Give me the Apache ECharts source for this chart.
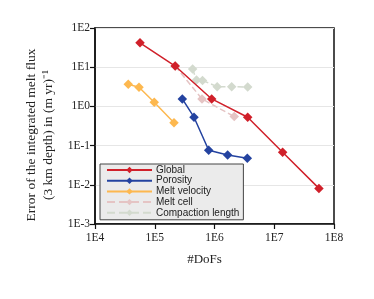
<!DOCTYPE html>
<html><head><meta charset="utf-8">
<script src="https://cdn.jsdelivr.net/npm/echarts@6/dist/echarts.min.js"></script>
<style>html,body{margin:0;padding:0;background:#fff}#c{width:374px;height:299px}</style>
</head><body><div id="c"></div>
<script>
const seriesNames = ['Global','Porosity','Melt velocity','Melt cell','Compaction length'];
const globalDofs = [5.66e4, 2.2e5, 8.97e5, 3.59e6, 1.38e7, 5.6e7];
const globalErr  = [42, 10.7, 1.55, 0.53, 0.0675, 0.0081];
const porosityDofs = [2.89e5, 4.54e5, 8.0e5, 1.66e6, 3.54e6];
const porosityErr  = [1.55, 0.53, 0.076, 0.0575, 0.0474];
const meltVelDofs = [3.6e4, 5.45e4, 9.8e4, 2.1e5];
const meltVelErr  = [3.66, 3.07, 1.27, 0.385];
const meltCellDofs = [2.2e5, 6.18e5, 2.14e6];
const meltCellErr  = [10.7, 1.55, 0.55];
const compDofs = [4.3e5, 5.0e5, 6.3e5, 1.11e6, 1.94e6, 3.59e6];
const compErr  = [9.0, 4.7, 4.6, 3.18, 3.18, 3.13];
const xTicks = ['1E4','1E5','1E6','1E7','1E8'];
const yTicks = ['1E-3','1E-2','1E-1','1E0','1E1','1E2'];

const zip = (a,b) => a.map((v,i)=>[v,b[i]]);
const serif = 'Liberation Serif';
function mk(name, xs, ys, color, type, z) {
  return {
    name, type:'line', data: zip(xs,ys), symbol:'diamond', symbolSize:9.5, z,
    lineStyle:{color, width:1.5, type}, itemStyle:{color}, emphasis:{disabled:true}
  };
}
const chart = echarts.init(document.getElementById('c'));
chart.setOption({
  animation:false,
  grid:{left:95, right:40, top:28, bottom:75, show:true, borderColor:'#111', borderWidth:1.5, backgroundColor:'transparent'},
  xAxis:{type:'log', logBase:10, min:1e4, max:1e8, name:'#DoFs', nameLocation:'middle', nameGap:29,
    nameTextStyle:{fontFamily:serif, fontSize:13, color:'#222', padding:[0,20,0,0]},
    axisLine:{show:true, lineStyle:{color:'#111', width:1.5}},
    axisTick:{show:true, length:5, lineStyle:{color:'#111', width:1.2}},
    minorTick:{show:false}, splitLine:{show:false},
    axisLabel:{fontFamily:serif, fontSize:11.5, color:'#222', margin:8,
      formatter:v=>xTicks[Math.round(Math.log10(v))-4]}},
  yAxis:{type:'log', logBase:10, min:1e-3, max:1e2,
    name:'Error of the integrated melt flux\n(3 km depth) in (m yr)⁻¹', nameLocation:'middle', nameGap:29, nameRotate:90,
    nameTextStyle:{fontFamily:serif, fontSize:13.5, color:'#222', lineHeight:17, padding:[0,18,0,0]},
    axisLine:{show:true, lineStyle:{color:'#111', width:1.5}},
    axisTick:{show:true, length:5, lineStyle:{color:'#111', width:1.2}},
    splitLine:{show:true, lineStyle:{color:'#e6e6e6', width:1}},
    axisLabel:{fontFamily:serif, fontSize:11.5, color:'#222', margin:5,
      formatter:v=>yTicks[Math.round(Math.log10(v))+3]}},
  legend:{orient:'vertical', left:100, top:164, data:seriesNames, itemWidth:45, itemHeight:8, itemGap:0.7,
    backgroundColor:'#ebebeb', borderColor:'#444', borderWidth:1, borderRadius:0, padding:[1,4,2,6],
    textStyle:{fontFamily:'Liberation Sans', fontSize:10, lineHeight:10, color:'#222', padding:[0,0,0,-1]}},
  series:[
    mk(seriesNames[4], compDofs, compErr, '#d3dace', 'dashed', 1),
    mk(seriesNames[3], meltCellDofs, meltCellErr, '#e5c4c4', 'dashed', 2),
    mk(seriesNames[2], meltVelDofs, meltVelErr, '#fdb84f', 'solid', 3),
    mk(seriesNames[1], porosityDofs, porosityErr, '#2443a0', 'solid', 4),
    mk(seriesNames[0], globalDofs, globalErr, '#d0202a', 'solid', 5)
  ]
});
</script></body></html>
